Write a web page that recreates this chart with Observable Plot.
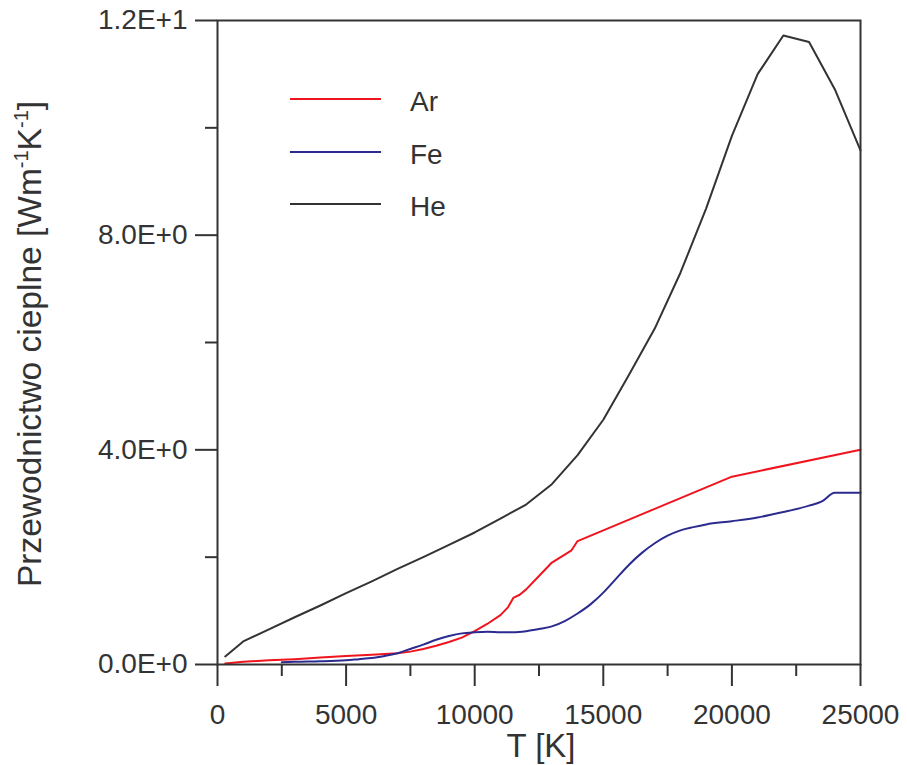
<!DOCTYPE html>
<html>
<head>
<meta charset="utf-8">
<script src="https://cdn.jsdelivr.net/npm/d3@7"></script>
<script src="https://cdn.jsdelivr.net/npm/@observablehq/plot@0.6"></script>
<style>
  html, body { margin: 0; padding: 0; background: #fff; }
</style>
</head>
<body>
<div id="chart"></div>
<script>
// ---- data ----
const seriesNames = ["Ar", "Fe", "He"];
const seriesColors = ["#f0141e", "#2b2b8f", "#333333"];

const T_He = [300,1000,2000,3000,4000,5000,6000,7000,8000,9000,10000,11000,12000,13000,14000,15000,16000,17000,18000,19000,20000,21000,22000,23000,24000,25000];
const He   = [0.15,0.43,0.655,0.88,1.1,1.33,1.55,1.78,2.0,2.23,2.46,2.72,2.98,3.36,3.9,4.56,5.4,6.26,7.3,8.5,9.85,11.0,11.72,11.6,10.72,9.58];

const T_Ar = [300,1000,2000,3000,4000,5000,6000,7000,7500,8000,8500,9000,9500,10000,10500,11000,11300,11500,11750,12000,12500,13000,13750,14000,15000,16000,17000,18000,19000,20000,25000];
const Ar   = [0.02,0.05,0.08,0.1,0.13,0.16,0.18,0.21,0.24,0.29,0.35,0.42,0.5,0.62,0.76,0.92,1.07,1.24,1.3,1.4,1.65,1.9,2.12,2.3,2.5,2.7,2.9,3.1,3.3,3.5,4.0];

const T_Fe = [2500,3000,4000,5000,5500,6000,6500,7000,7500,8000,8500,9000,9500,10000,10500,11000,11500,12000,12500,13000,13500,14000,14500,15000,15500,16000,16500,17000,17500,18000,18500,19000,20000,21000,22000,23000,23500,24000,25000];
const Fe   = [0.04,0.05,0.06,0.08,0.1,0.12,0.16,0.21,0.29,0.37,0.46,0.53,0.58,0.6,0.61,0.6,0.6,0.62,0.66,0.71,0.81,0.95,1.12,1.34,1.6,1.86,2.08,2.26,2.4,2.5,2.56,2.61,2.67,2.74,2.84,2.96,3.04,3.2,3.2];

const xMajor = [0,5000,10000,15000,20000,25000];
const xMinor = [2500,7500,12500,17500,22500];
const yMajor = [0,4,8,12];
const yMinor = [2,6,10];
const xTitle = "T [K]";

// ---- build tables ----
const toRows = (Ts, Vs, name) => Ts.map((t, i) => ({T: t, v: Vs[i], s: name}));
const rowsAr = toRows(T_Ar, Ar, "Ar");
const rowsFe = toRows(T_Fe, Fe, "Fe");
const rowsHe = toRows(T_He, He, "He");

const ink = "#333333";
const fontFamily = "'Liberation Sans', Arial, Helvetica, sans-serif";

const yFmt = d => d.toExponential(1).toUpperCase();

const chart = Plot.plot({
  width: 907,
  height: 765,
  marginLeft: 217,
  marginRight: 47,
  marginTop: 20,
  marginBottom: 101,
  style: {fontFamily, fontSize: "28px", color: ink, background: "#fff", overflow: "visible"},
  x: {domain: [0, 25000]},
  y: {domain: [0, 12]},
  marks: [
    Plot.line(rowsAr, {x: "T", y: "v", stroke: seriesColors[0], strokeWidth: 2, curve: "linear"}),
    Plot.line(rowsFe, {x: "T", y: "v", stroke: seriesColors[1], strokeWidth: 2, curve: "monotone-x"}),
    Plot.line(rowsHe, {x: "T", y: "v", stroke: seriesColors[2], strokeWidth: 2, curve: "linear"}),
    Plot.frame({stroke: ink, strokeWidth: 2}),
    Plot.axisX({ticks: xMajor, tickSize: 22, tickPadding: 18, tickFormat: d => String(d), label: null, stroke: ink, strokeWidth: 2, fill: ink}),
    Plot.axisX({ticks: xMinor, tickSize: 12, text: null, label: null, stroke: ink, strokeWidth: 2}),
    Plot.axisY({ticks: yMajor, tickSize: 22, tickPadding: 8, tickFormat: yFmt, label: null, stroke: ink, strokeWidth: 2, fill: ink}),
    Plot.axisY({ticks: yMinor, tickSize: 12, text: null, label: null, stroke: ink, strokeWidth: 2})
  ]
});

document.getElementById("chart").appendChild(chart);

// ---- titles and legend ----
const svg = d3.select(chart);

svg.append("text")
  .attr("x", 541).attr("y", 757)
  .attr("text-anchor", "middle")
  .attr("fill", ink)
  .style("font-family", fontFamily)
  .style("font-size", "33px")
  .text(xTitle);

const yt = svg.append("text")
  .attr("transform", "translate(41,344) rotate(-90)")
  .attr("text-anchor", "middle")
  .attr("fill", ink)
  .style("font-family", fontFamily)
  .style("font-size", "33.5px");
yt.append("tspan").text("Przewodnictwo cieplne [Wm");
yt.append("tspan").attr("dy", -13).style("font-size", "20px").text("-1");
yt.append("tspan").attr("dy", 13).text("K");
yt.append("tspan").attr("dy", -13).style("font-size", "20px").text("-1");
yt.append("tspan").attr("dy", 13).text("]");

const legY = [99, 152, 204];
const leg = svg.append("g").attr("text-anchor", "start");
seriesNames.forEach((name, i) => {
  leg.append("line")
    .attr("x1", 290).attr("x2", 381)
    .attr("y1", legY[i]).attr("y2", legY[i])
    .attr("stroke", seriesColors[i]).attr("stroke-width", 2);
  leg.append("text")
    .attr("x", 410).attr("y", legY[i] + 12)
    .attr("text-anchor", "start")
    .attr("fill", ink)
    .style("font-family", fontFamily)
    .style("font-size", "28px")
    .text(name);
});
</script>
</body>
</html>
